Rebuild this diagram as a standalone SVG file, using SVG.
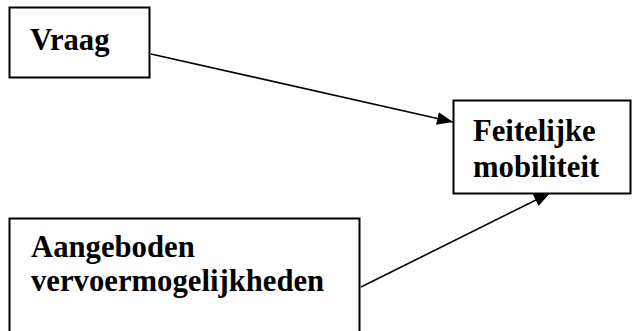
<svg xmlns="http://www.w3.org/2000/svg" width="633" height="331" viewBox="0 0 633 331">
  <style>
    .box { fill: #fff; stroke: #000; stroke-width: 2; }
    .label { font-family: "Liberation Serif", "Times New Roman", serif; font-weight: bold; font-size: 30.7px; fill: #000; }
    .edge { fill: none; stroke: #000; stroke-width: 1.6; }
  </style>
  <defs>
    <marker id="arrow" markerUnits="userSpaceOnUse" markerWidth="17" markerHeight="13" refX="16" refY="6.5" orient="auto">
      <path d="M0,0 L16,6.5 L0,13 z" fill="#000"/>
    </marker>
  </defs>

  <!-- connectors drawn first so the boxes sit on top -->
  <g id="connectors">
    <line class="edge" x1="151" y1="54" x2="453" y2="122" marker-end="url(#arrow)"/>
    <line class="edge" x1="361" y1="287" x2="550" y2="193" marker-end="url(#arrow)"/>
  </g>

  <g id="vraag">
    <rect class="box" x="9.5" y="7.5" width="140" height="70"/>
    <text class="label" x="30" y="50">Vraag</text>
  </g>

  <g id="feitelijke-mobiliteit">
    <rect class="box" x="453.5" y="100.5" width="177" height="93"/>
    <text class="label" x="473" y="141">Feitelijke</text>
    <text class="label" x="473" y="177">mobiliteit</text>
  </g>

  <g id="aangeboden-vervoermogelijkheden">
    <rect class="box" x="9.5" y="218.5" width="350" height="130"/>
    <text class="label" x="31" y="257">Aangeboden</text>
    <text class="label" x="31" y="291">vervoermogelijkheden</text>
  </g>
</svg>
